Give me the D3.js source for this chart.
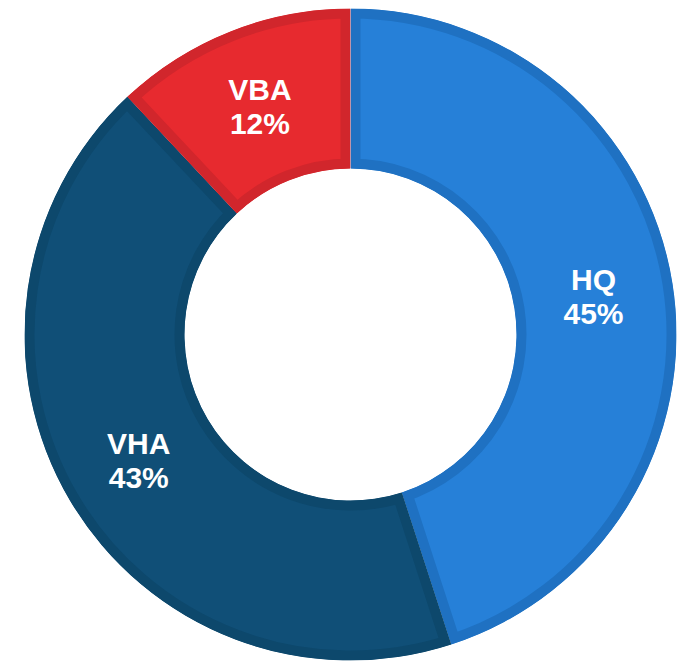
<!DOCTYPE html>
<html lang="en">
  <head>
    <meta charset="utf-8">
    <title>Donut - D3</title>
    <style>
      body { margin: 0; background: #fff; }
    </style>
  </head>
  <body>
    <div id="dataviz_area"></div>
    <script src="https://d3js.org/d3.v7.min.js"></script>
    <script>
      var categories = ["HQ", "VHA", "VBA"]
      var values = [45, 43, 12]
      var fills = ["#2680d8", "#104f77", "#e72a2f"]
      var borders = ["#1f71c2", "#0d486c", "#d1262c"]

      var width = 681,
        height = 661,
        cx = 350.5,
        cy = 334.5,
        outerR = 326,
        innerR = 166,
        border = 10

      var svg = d3.select("#dataviz_area")
        .append("svg")
          .attr("width", width)
          .attr("height", height)

      var g = svg.append("g")
        .attr("transform", "translate(" + cx + ", " + cy + ")")

      var pie = d3.pie()
        .sort(null)
        .value(function (d) { return d })

      var arc = d3.arc()
        .innerRadius(innerR)
        .outerRadius(outerR)

      var arcs = pie(values)

      // clip each slice to itself so the wide stroke only shows on the inside
      var defs = svg.append("defs")
      defs.selectAll("clipPath")
        .data(arcs)
        .join("clipPath")
          .attr("id", function (d, i) { return "clip" + i })
        .append("path")
          .attr("d", arc)

      g.selectAll("path.slice")
        .data(arcs)
        .join("path")
          .attr("class", "slice")
          .attr("d", arc)
          .attr("clip-path", function (d, i) { return "url(#clip" + i + ")" })
          .style("fill", function (d, i) { return fills[i] })
          .style("stroke", function (d, i) { return borders[i] })
          .style("stroke-width", border * 2)
          .style("stroke-linejoin", "miter")

      var labels = g.selectAll("text")
        .data(arcs)
        .join("text")
          .attr("transform", function (d) { return "translate(" + arc.centroid(d) + ")" })
          .attr("text-anchor", "middle")
          .style("font-family", "'Liberation Sans', Arial, sans-serif")
          .style("font-weight", "bold")
          .style("font-size", "30px")
          .style("fill", "#fff")

      labels.append("tspan")
        .attr("x", 0)
        .attr("y", -6)
        .text(function (d, i) { return categories[i] })

      labels.append("tspan")
        .attr("x", 0)
        .attr("y", 28)
        .text(function (d) { return d.data + "%" })
    </script>
  </body>
</html>
